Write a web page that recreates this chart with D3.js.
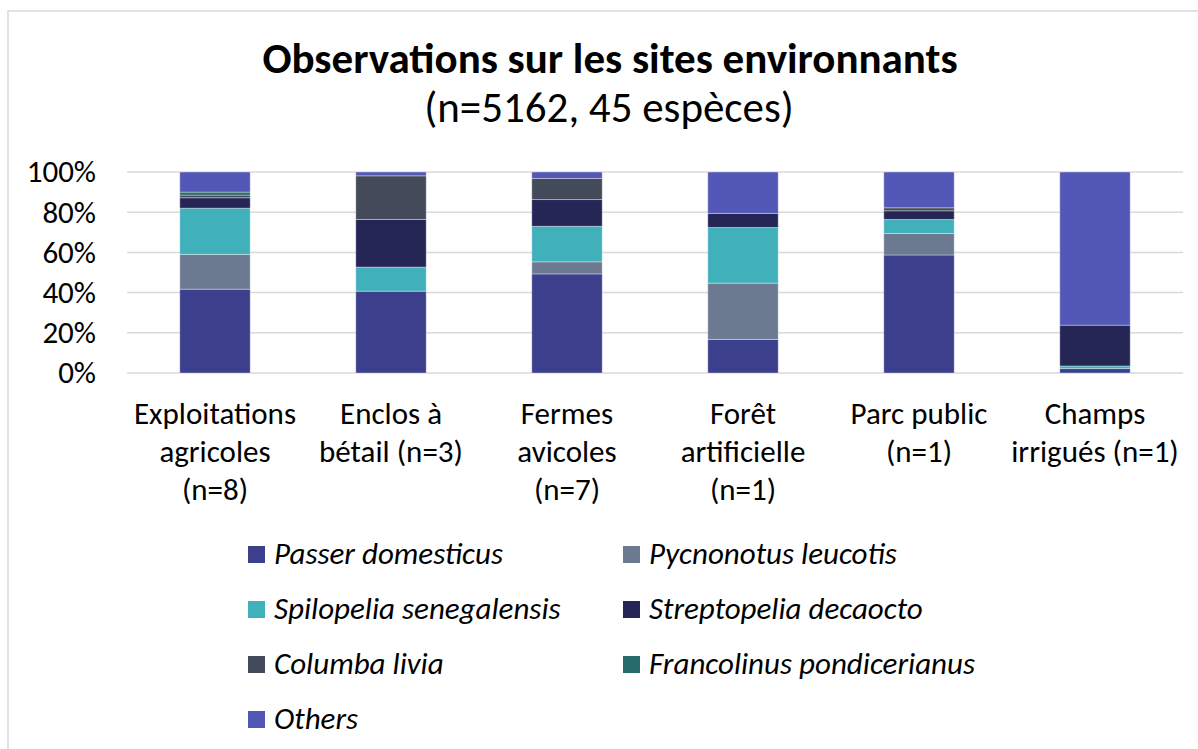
<!DOCTYPE html>
<html>
<head>
<meta charset="utf-8">
<script src="https://cdn.jsdelivr.net/npm/d3@7"></script>
<style>
    body { margin: 0; background: #fff; }
    text { font-family: Carlito, Calibri, Lato, sans-serif; fill: #000; }
</style>
</head>
<body>
<div id="chart"></div>
<script>
// Sites (label lines as in the chart)
const sites = ['Exploitations agricoles (n=8)', 'Enclos à bétail (n=3)', 'Fermes avicoles (n=7)',
    'Forêt artificielle (n=1)', 'Parc public (n=1)', 'Champs irrigués (n=1)'];
const siteLines = [
    ['Exploitations', 'agricoles', '(n=8)'],
    ['Enclos à', 'bétail (n=3)'],
    ['Fermes', 'avicoles', '(n=7)'],
    ['Forêt', 'artificielle', '(n=1)'],
    ['Parc public', '(n=1)'],
    ['Champs', 'irrigués (n=1)']
];

// Share of observations per species (%)
const species = ['Passer domesticus', 'Pycnonotus leucotis', 'Spilopelia senegalensis',
    'Streptopelia decaocto', 'Columba livia', 'Francolinus pondicerianus', 'Others'];
const passerDomesticus = [41.7, 40.7, 49.3, 16.7, 58.7, 2.2];
const pycnonotusLeucotis = [17.3, 0, 6.0, 28.0, 10.7, 0];
const spilopeliaSenegalensis = [23.0, 12.0, 17.7, 27.7, 7.0, 1.3];
const streptopeliaDecaocto = [5.2, 23.7, 13.3, 7.0, 4.3, 20.3];
const columbaLivia = [1.3, 21.7, 10.5, 0, 1.5, 0];
const francolinusPondicerianus = [1.5, 0, 0, 0, 0, 0];
const others = [10.0, 1.9, 3.2, 20.6, 17.8, 76.2];

const colors = ['#3c3f8c', '#6b7a91', '#40b0bb', '#262656', '#434a59', '#276b6c', '#5357b5'];
const yTicks = [0, 20, 40, 60, 80, 100];

function draw() {
    const seriesValues = [passerDomesticus, pycnonotusLeucotis, spilopeliaSenegalensis,
        streptopeliaDecaocto, columbaLivia, francolinusPondicerianus, others];

    const table = sites.map((s, i) => {
        const row = { site: s, index: i };
        species.forEach((sp, j) => row[sp] = seriesValues[j][i]);
        return row;
    });

    const dimensions = {
        width: 1198,
        height: 749,
        left: 127,
        right: 1183,
        top: 172,
        bottom: 373
    };

    const svg = d3.select('#chart')
        .append('svg')
        .attr('width', dimensions.width)
        .attr('height', dimensions.height);

    // Chart frame
    svg.append('rect')
        .attr('x', 8)
        .attr('y', 11)
        .attr('width', 1400)
        .attr('height', 1000)
        .attr('fill', 'none')
        .attr('stroke', '#d9d9d9')
        .attr('stroke-width', 1.5);

    // Titles
    svg.append('text')
        .attr('x', 610)
        .attr('y', 73)
        .attr('text-anchor', 'middle')
        .style('font-size', '43px')
        .style('font-weight', 'bold')
        .text('Observations sur les sites environnants');

    svg.append('text')
        .attr('x', 609)
        .attr('y', 122)
        .attr('text-anchor', 'middle')
        .style('font-size', '43px')
        .text('(n=5162, 45 espèces)');

    // Scales
    const xScale = d3.scaleBand()
        .domain(sites)
        .range([dimensions.left, dimensions.right])
        .paddingInner(0.6)
        .paddingOuter(0.3);

    const yScale = d3.scaleLinear()
        .domain([0, 100])
        .range([dimensions.bottom, dimensions.top]);

    // Grid
    svg.append('g')
        .selectAll('line')
        .data(yTicks)
        .join('line')
        .attr('x1', dimensions.left)
        .attr('x2', dimensions.right)
        .attr('y1', d => yScale(d))
        .attr('y2', d => yScale(d))
        .attr('stroke', '#d9d9d9')
        .attr('stroke-width', 1.5);

    // Y axis labels
    const yAxis = d3.axisLeft(yScale)
        .tickValues(yTicks)
        .tickFormat(d => d + '%')
        .tickSize(0)
        .tickPadding(31);

    const yGroup = svg.append('g')
        .attr('transform', `translate(${dimensions.left}, 0)`)
        .call(yAxis);
    yGroup.select('.domain').remove();
    yGroup.selectAll('text')
        .style('font-size', '31px')
        .style('font-family', 'Carlito, Calibri, Lato, sans-serif')
        .attr('fill', '#000');

    // Stacked bars
    const stack = d3.stack().keys(species);
    const stacked = stack(table);

    svg.append('g')
        .selectAll('g')
        .data(stacked)
        .join('g')
        .attr('fill', (d, i) => colors[i])
        .selectAll('rect')
        .data(d => d.filter(p => p[1] - p[0] > 0))
        .join('rect')
        .attr('x', d => xScale(d.data.site))
        .attr('width', xScale.bandwidth())
        .attr('y', d => yScale(d[1]))
        .attr('height', d => yScale(d[0]) - yScale(d[1]))
        .attr('stroke', 'rgba(255,255,255,0.35)')
        .attr('stroke-width', 1);

    // Category labels
    const labels = svg.append('g')
        .selectAll('text')
        .data(sites)
        .join('text')
        .attr('text-anchor', 'middle')
        .attr('x', d => xScale(d) + xScale.bandwidth() / 2)
        .attr('y', 424)
        .style('font-size', '31px');

    labels.selectAll('tspan')
        .data((d, i) => siteLines[i])
        .join('tspan')
        .attr('x', function () { return this.parentNode.getAttribute('x'); })
        .attr('dy', (d, i) => i === 0 ? 0 : 38)
        .text(d => d);

    // Legend
    const legendPos = (i) => ({ x: 248 + (i % 2) * 375, y: 554 + Math.floor(i / 2) * 55 });

    const legend = svg.append('g')
        .selectAll('g')
        .data(species)
        .join('g')
        .attr('transform', (d, i) => `translate(${legendPos(i).x}, ${legendPos(i).y})`);

    legend.append('rect')
        .attr('x', 0)
        .attr('y', -8)
        .attr('width', 17)
        .attr('height', 17)
        .attr('fill', (d, i) => colors[i]);

    legend.append('text')
        .attr('x', 26)
        .attr('y', 10)
        .style('font-size', '31px')
        .style('font-style', 'italic')
        .text(d => d);
}

draw();
</script>
</body>
</html>
